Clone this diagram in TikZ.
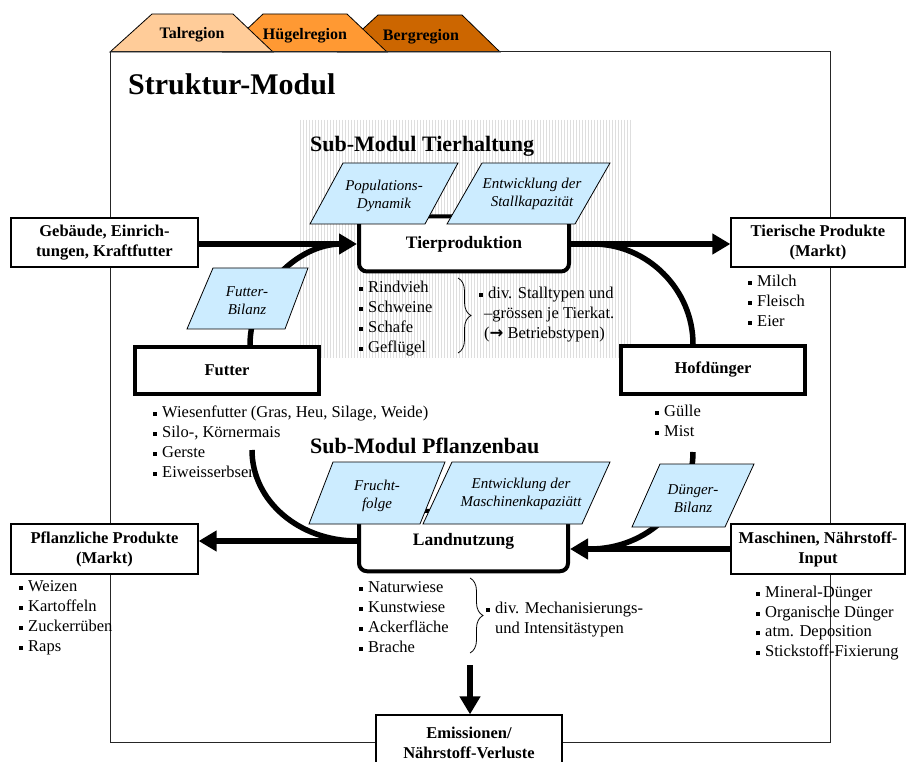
\documentclass[tikz,border=0pt]{standalone}
\usepackage{fontspec}
\setmainfont{Liberation Serif}
\newfontfamily\symfont{DejaVu Sans}
\usetikzlibrary{arrows.meta,decorations.pathreplacing}
\definecolor{talc}{HTML}{FFCC99}
\definecolor{huegc}{HTML}{FF9933}
\definecolor{bergc}{HTML}{CC6600}
\definecolor{parac}{HTML}{CCECFF}
\newcommand{\bul}{\rule[1.6pt]{4pt}{4pt}\hspace{5pt}}
\begin{document}
\begin{tikzpicture}[x=1pt,y=-1pt,
  tab/.style={draw=black, line width=0.8pt},
  tabtxt/.style={font=\fontsize{16}{19}\selectfont\bfseries, anchor=base, inner sep=0},
  frame/.style={draw=black!85, line width=1pt},
  hatch/.style={draw=black!13, line width=0.45pt},
  bigtitle/.style={font=\fontsize{30}{34}\selectfont\bfseries, anchor=base west, inner sep=0},
  subtitle/.style={font=\fontsize{22}{26}\selectfont\bfseries, anchor=base west, inner sep=0},
  thinbox/.style={draw=black, line width=1.3pt, fill=white, font=\fontsize{16.5}{20}\selectfont\bfseries, align=center, inner sep=0},
  thickbox/.style={draw=black, line width=4pt, fill=white, font=\fontsize{16.5}{20}\selectfont\bfseries, align=center, inner sep=0},
  procbox/.style={thickbox, rounded corners=8pt, font=\fontsize{17.5}{20}\selectfont\bfseries},
  item/.style={anchor=west, inner sep=0, font=\fontsize{16.5}{20}\selectfont, text height=11pt, text depth=4pt},
  para/.style={draw=black, line width=0.8pt, fill=parac},
  paratxt/.style={font=\fontsize{15}{18}\selectfont\itshape, align=center, inner sep=0},
  flow/.style={draw=black, line width=5.5pt},
  arr/.style={flow, -{Triangle[length=18pt,width=20pt]}},
  bracestyle/.style={draw=black, line width=0.8pt, decorate, decoration={brace, amplitude=13pt}}
]
\useasboundingbox (0,0) rectangle (906,762);
\clip (0,0) rectangle (906,762);
\fill[white] (0,0) rectangle (906,762);

% tabs
\filldraw[tab, fill=bergc] (338,52) -- (378,15) -- (462,15) -- (500,52) -- cycle;
\filldraw[tab, fill=huegc] (223,52) -- (263,14) -- (347,14) -- (387,52) -- cycle;
\filldraw[tab, fill=talc] (110,52) -- (152,14) -- (233,14) -- (273,52) -- cycle;
\node[tabtxt] (tal) at (192,39) {Talregion};
\node[tabtxt] (hueg) at (305,40) {Hügelregion};
\node[tabtxt] (berg) at (421,41) {Bergregion};

% frame
\draw[frame] (110,52) rectangle (830,742);

% hatched area
\foreach \hx in {300,303,...,630} \draw[hatch] (\hx,120) -- (\hx,358);

% titles
\node[bigtitle] (title) at (128,95) {Struktur-Modul};
\node[subtitle] (subT) at (310,152) {Sub-Modul Tierhaltung};
\node[subtitle] (subP) at (310,453) {Sub-Modul Pflanzenbau};

% bullet lists
\foreach \t [count=\i from 0] in {Rindvieh,Schweine,Schafe,Geflügel}
  \node[item] (tb\i) at (359,289+20*\i) {\bul\t};
\foreach \t [count=\i from 0] in {{Wiesenfutter (Gras, Heu, Silage, Weide)},{Silo-, Körnermais},Gerste,Eiweisserbsen}
  \node[item] (fb\i) at (153,414+20*\i) {\bul\t};
\foreach \t [count=\i from 0] in {Milch,Fleisch,Eier}
  \node[item] (mb\i) at (748,283+20*\i) {\bul\t};
\foreach \t [count=\i from 0] in {Gülle,Mist}
  \node[item] (hb\i) at (655,413+20*\i) {\bul\t};
\foreach \t [count=\i from 0] in {Weizen,Kartoffeln,Zuckerrüben,Raps}
  \node[item] (pb\i) at (19,588+20*\i) {\bul\t};
\foreach \t [count=\i from 0] in {Naturwiese,Kunstwiese,Ackerfläche,Brache}
  \node[item] (lb\i) at (359,589+20*\i) {\bul\t};
\foreach \t [count=\i from 0] in {Mineral-Dünger,Organische Dünger,atm. Deposition,Stickstoff-Fixierung}
  \node[item] (nb\i) at (756,594+19.7*\i) {\bul\t};

% braces
\draw[bracestyle] (458,278) -- (458,353);
\node[item] (tbr1) at (479,295) {\bul div. Stalltypen und};
\node[item] (tbr2) at (484,315) {–grössen je Tierkat.};
\node[item] (tbr3) at (484,335) {({\symfont\bfseries →} Betriebstypen)};
\draw[bracestyle] (470,578) -- (470,653);
\node[item] (lbr1) at (486,610) {\bul div. Mechanisierungs-};
\node[item] (lbr2) at (495,630) {und Intensitästypen};

% boxes
\node[procbox, minimum width=210, minimum height=55] (Tier) at (464,244) {Tierproduktion};
\node[procbox, minimum width=209, minimum height=60.5] (Land) at (463.5,541) {Landnutzung};
\node[thickbox, minimum width=184.5, minimum height=47] (Futter) at (227,370.5) {Futter};
\node[thickbox, minimum width=184.5, minimum height=48] (Hof) at (713,370) {Hofdünger};
\node[thinbox, minimum width=187, minimum height=49] (Geb) at (104.5,242.5) {Gebäude, Einrich-\\tungen, Kraftfutter};
\node[thinbox, minimum width=174, minimum height=49] (TierM) at (818,242.5) {Tierische Produkte\\(Markt)};
\node[thinbox, minimum width=187, minimum height=50] (Pfl) at (104.5,549) {Pflanzliche Produkte\\(Markt)};
\node[thinbox, minimum width=174, minimum height=50] (Masch) at (818,549) {Maschinen, Nährstoff-\\Input};
\node[thinbox, minimum width=186, minimum height=56] (Emis) at (469,743) {Emissionen/\\Nährstoff-Verluste};

% flows (curves)
\coordinate (fbtop) at ([xshift=23pt]Futter.north);
\draw[flow] (fbtop) .. controls (250,290) and (298,244) .. ([xshift=-16pt]Tier.west);
\coordinate (hoftop) at ([xshift=-20pt]Hof.north);
\draw[flow] ([xshift=22pt]Tier.east) .. controls (648,244) and (693,290) .. (hoftop);
\coordinate (fl) at (252,450);
\draw[flow] (fl) .. controls (252,501) and (299,541) .. (Land.west);
\coordinate (hl) at (693,452);
\coordinate (hlend) at (590,549);
\draw[flow] (hl) .. controls (693,505) and (647,549) .. (hlend);

% arrows
\draw[arr] (Geb.east |- Tier.west) -- (Tier.west);
\draw[arr] (Tier.east) -- (Tier.east -| TierM.west);
\draw[arr] (Land.west) -- (Land.west -| Pfl.east);
\draw[arr] (Masch.west) -- (Masch.west -| Land.east);
\coordinate (ds) at (470,665);
\draw[arr] (ds) -- (ds |- Emis.north);

% parallelograms
\draw[para] (343,163) -- (458,163) -- (425,224) -- (310,224) -- cycle;
\node[paratxt] (pop) at (384,196) {Populations-\\Dynamik};
\draw[para] (482,163) -- (610,163) -- (575,224) -- (447,224) -- cycle;
\node[paratxt] (stall) at (532,194) {Entwicklung der\\Stallkapazität};
\draw[para] (213,268) -- (308,268) -- (285,329) -- (187,329) -- cycle;
\node[paratxt] (fbil) at (247,301) {Futter-\\Bilanz};
\draw[para] (333,462) -- (445,462) -- (420,524) -- (309,524) -- cycle;
\node[paratxt] (frucht) at (377,496) {Frucht-\\folge};
\draw[para] (452,462) -- (610,462) -- (582,524) -- (423,524) -- cycle;
\node[paratxt] (mkap) at (521,494) {Entwicklung der\\Maschinenkapaziätt};
\draw[para] (660,464) -- (754,464) -- (725,527) -- (632,527) -- cycle;
\node[paratxt] (dbil) at (693,499) {Dünger-\\Bilanz};
\end{tikzpicture}
\end{document}
